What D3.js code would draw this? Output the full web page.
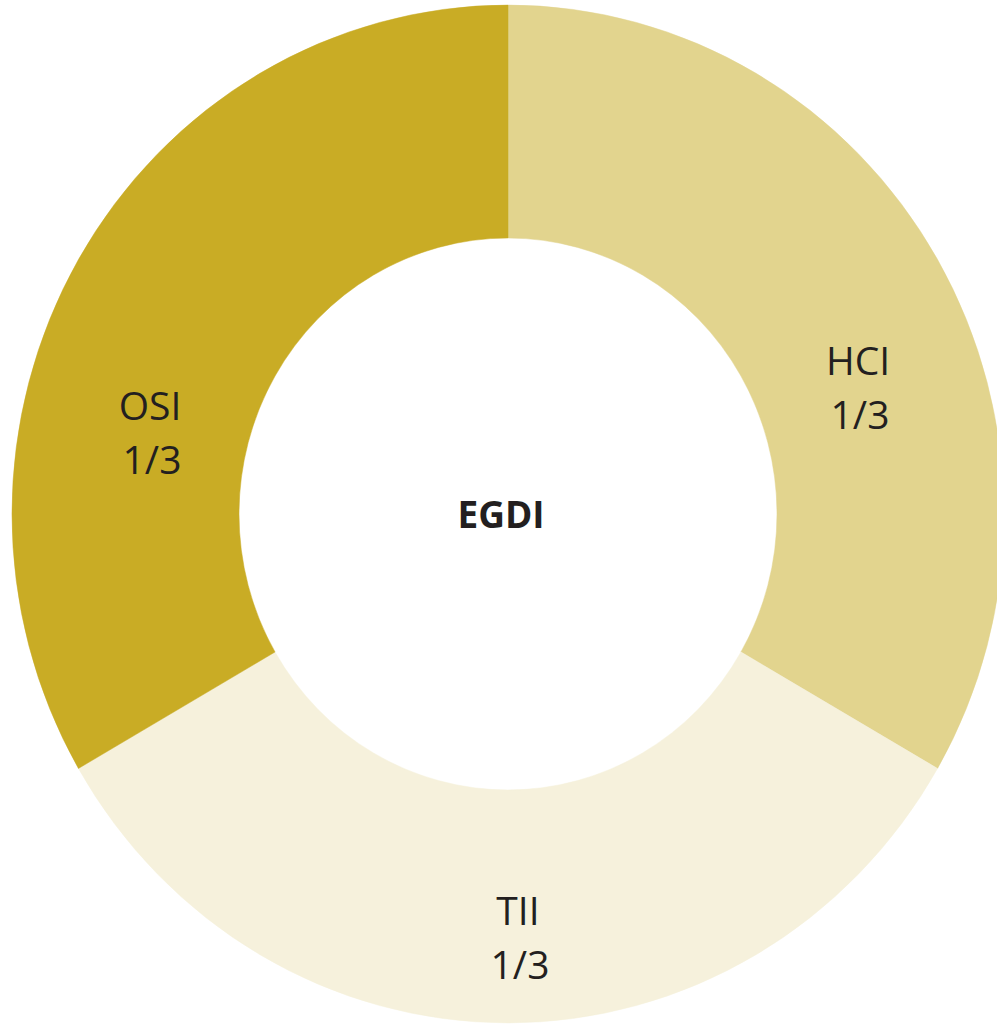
<!DOCTYPE html>
<html lang="en">
<head>
   <meta charset="utf-8">
   <title>EGDI components</title>
   <style type="text/css">
      body { margin: 0; background: #fff; }
      text { font-family: "Open Sans", "Noto Sans", sans-serif; fill: #231f20; }
   </style>
</head>
<body>
   <script src="https://cdn.jsdelivr.net/npm/d3@7"></script>
   <script type="text/javascript">

      var w = 997;
      var h = 1031;

      // data
      var categories = ["HCI", "TII", "OSI"];
      var values = [1, 1, 1];
      var shareLabels = ["1/3", "1/3", "1/3"];
      var centerLabel = "EGDI";
      var colors = ["#e2d48e", "#f6f1dc", "#c9ac25"];

      var cx = 508, cy = 514;
      var outerR = 496, innerR = 269;
      var yStretch = 1.026;

      // hand placed label anchors (centre x, baseline of first line)
      var labelPos = {
         "HCI": [858, 375],
         "TII": [518, 925],
         "OSI": [150, 420]
      };

      var svg = d3.select("body")
                  .append("svg")
                  .attr("width", w)
                  .attr("height", h);

      var pie = d3.pie()
                  .sort(null)
                  .value(function(d) { return d; });

      var arc = d3.arc()
                  .innerRadius(innerR)
                  .outerRadius(outerR);

      var g = svg.append("g")
                 .attr("transform", "translate(" + cx + "," + cy + ") scale(1," + yStretch + ")");

      g.selectAll("path")
         .data(pie(values))
         .enter()
         .append("path")
         .attr("d", arc)
         .attr("fill", function(d, i) { return colors[i]; })
         .attr("stroke", function(d, i) { return colors[i]; })
         .attr("stroke-width", 0.5);

      var labels = svg.selectAll("g.label")
         .data(categories)
         .enter()
         .append("g")
         .attr("class", "label");

      labels.append("text")
         .attr("x", function(d) { return labelPos[d][0]; })
         .attr("y", function(d) { return labelPos[d][1]; })
         .attr("text-anchor", "middle")
         .attr("font-size", "39px")
         .text(function(d) { return d; });

      labels.append("text")
         .attr("x", function(d) { return labelPos[d][0] + 2; })
         .attr("y", function(d) { return labelPos[d][1] + 54; })
         .attr("text-anchor", "middle")
         .attr("font-size", "39px")
         .text(function(d, i) { return shareLabels[i]; });

      svg.append("text")
         .attr("x", 501)
         .attr("y", 528)
         .attr("text-anchor", "middle")
         .attr("font-size", "37px")
         .attr("font-weight", "bold")
         .text(centerLabel);
   </script>
</body>
</html>
